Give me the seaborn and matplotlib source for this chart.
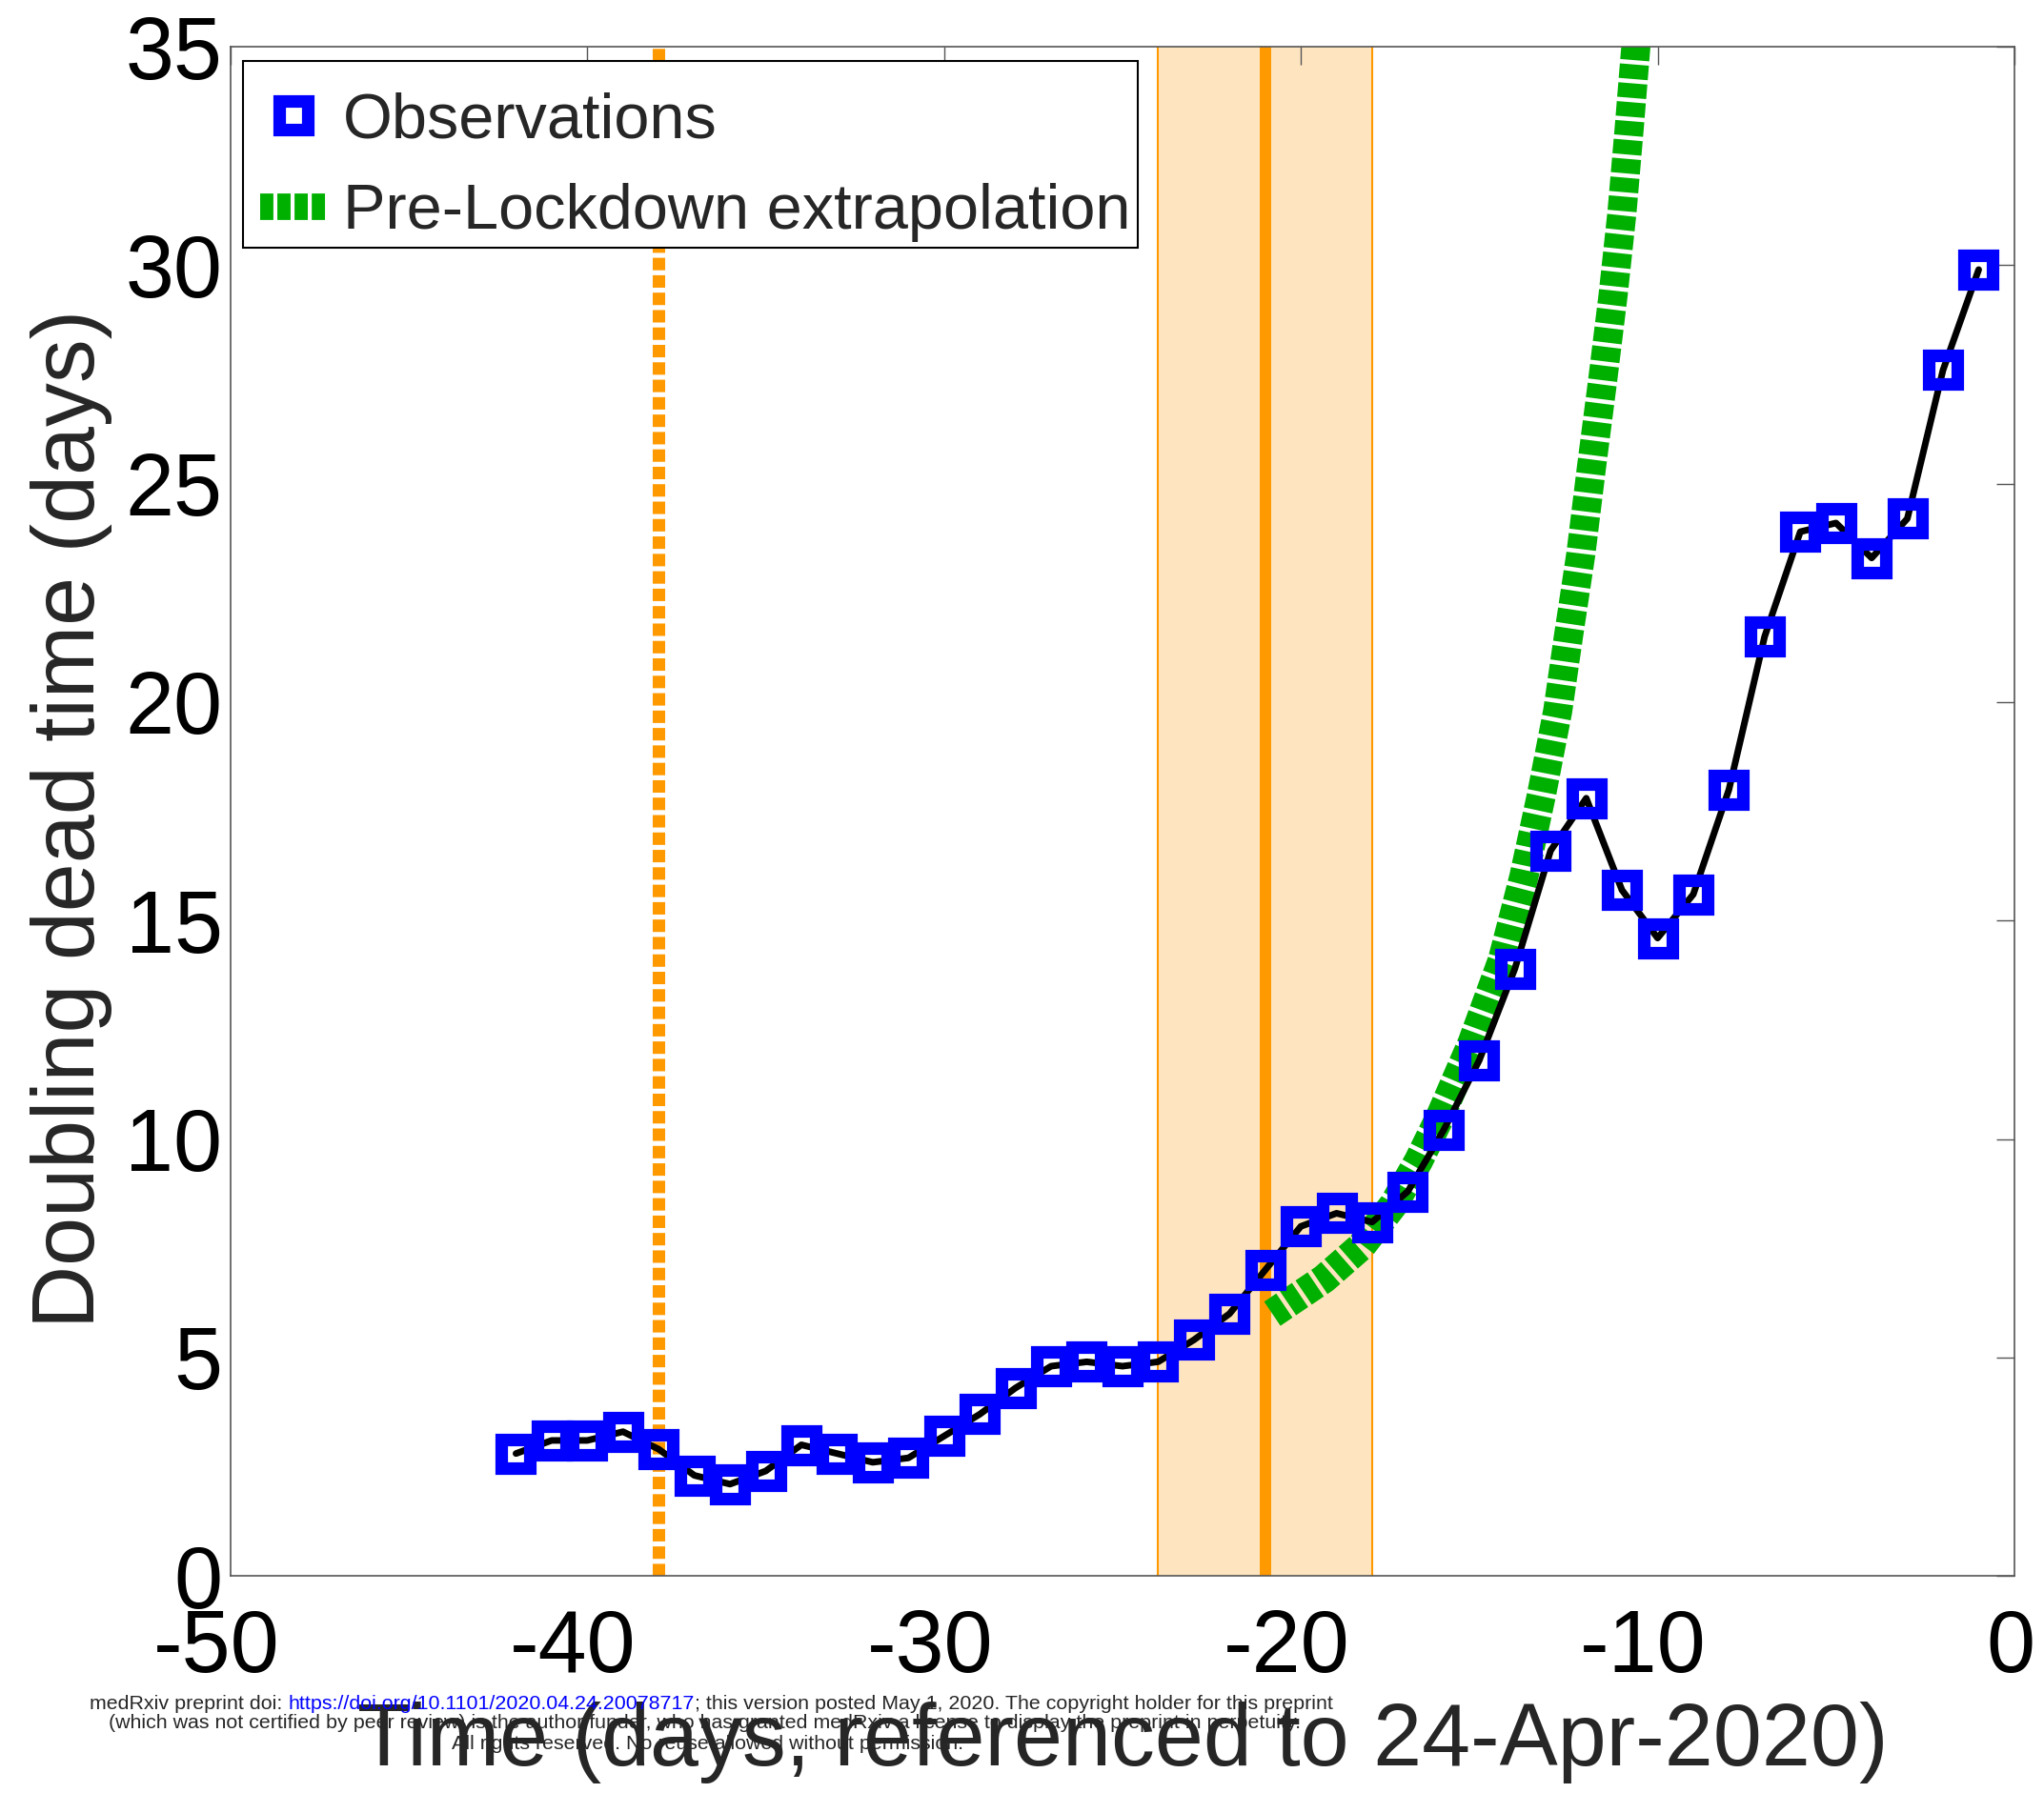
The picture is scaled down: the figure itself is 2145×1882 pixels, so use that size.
import matplotlib
matplotlib.use('Agg')
import matplotlib.pyplot as plt
import matplotlib.transforms as mtransforms
from matplotlib.lines import Line2D
from matplotlib.patches import Rectangle
import seaborn as sns
import pandas as pd

# Observed doubling time of deaths (days), referenced to 24-Apr-2020
days = list(range(-42, 0))
doubling_time = [2.8, 3.1, 3.1, 3.3, 2.9, 2.3, 2.1, 2.4, 3.0, 2.8,
                 2.6, 2.7, 3.2, 3.7, 4.3, 4.8, 4.9, 4.8, 4.9, 5.4,
                 6.0, 7.0, 8.0, 8.3, 8.1, 8.8, 10.2, 11.8, 13.9, 16.6,
                 17.8, 15.7, 14.6, 15.6, 18.0, 21.5, 23.9, 24.1, 23.3, 24.2,
                 27.6, 29.9]

# Pre-lockdown extrapolation
extrap_days = [-20.8, -19.35, -18.3, -17.4, -16.7, -16.1, -15.2, -14.35, -13.75,
               -13.25, -12.8, -12.5, -12.15, -11.85, -11.55, -11.25, -11.0, -10.8, -10.58]
extrap_vals = [6.0, 6.8, 7.55, 8.5, 9.5, 10.5, 12.2, 14.1, 16.0,
               17.9, 19.8, 21.5, 23.4, 25.4, 27.3, 29.3, 31.2, 33.1, 35.3]

first_event_day = -38
lockdown_day = -21
band_start, band_end = -24, -18

x_ticks = [-50, -40, -30, -20, -10, 0]
y_ticks = [0, 5, 10, 15, 20, 25, 30, 35]

obs = pd.DataFrame({'day': days, 'td': doubling_time})
ext = pd.DataFrame({'day': extrap_days, 'td': extrap_vals})

sns.set_style('white')
plt.rcParams['font.family'] = ['Liberation Sans', 'DejaVu Sans']
plt.rcParams['axes.unicode_minus'] = False

ORANGE = '#FF9900'
GREEN = '#00B000'
BLUE = '#0000FF'
green_ls = (0, (0.5, 0.15))
BIG = 66

fig = plt.figure(figsize=(21.45, 18.82), dpi=100)
ax = fig.add_axes([0.1128, 0.1211, 0.8727, 0.8528])

# lockdown window and event markers
ax.axvspan(band_start, band_end, facecolor='#FFE5BF', edgecolor='none', zorder=0)
for xb in (band_start, band_end):
    ax.axvline(xb, color=ORANGE, lw=1.5, zorder=1)
ax.axvline(lockdown_day, color=ORANGE, lw=8.6, zorder=1)
ax.axvline(first_event_day, color=ORANGE, lw=9.4, linestyle=(0, (1.0, 0.4)),
           dash_capstyle='butt', zorder=1)

# extrapolation
sns.lineplot(data=ext, x='day', y='td', color=GREEN, lw=22, linestyle=green_ls,
             dash_capstyle='butt', sort=False, ax=ax, zorder=2)

# observations
sns.lineplot(data=obs, x='day', y='td', color='black', lw=5, ax=ax, zorder=3)
sns.lineplot(data=obs, x='day', y='td', linestyle='none', marker='s', markersize=22,
             markerfacecolor='none', markeredgecolor=BLUE, markeredgewidth=9.5,
             ax=ax, zorder=4)

ax.set_xlim(-50, 0)
ax.set_ylim(0, 35)
ax.set_xticks(x_ticks, labels=[str(v) for v in x_ticks])
ax.set_yticks(y_ticks)
ax.tick_params(direction='in', length=13.7, width=1, colors='#555555',
               labelcolor='black', labelsize=BIG, top=True, right=True)
ax.tick_params(axis='x', pad=24.5)
ax.tick_params(axis='y', pad=6)
for sp in ax.spines.values():
    sp.set_color('#555555')
    sp.set_linewidth(1.2)

# x tick labels sit a little left of their ticks in the original
for lbl in ax.get_xticklabels():
    dx = -15 if lbl.get_text().startswith('-') else -4
    lbl.set_transform(lbl.get_transform()
                      + mtransforms.ScaledTranslation(dx / 100, 0, fig.dpi_scale_trans))

ax.set_xlabel('Time (days, referenced to 24-Apr-2020)', fontsize=BIG)
ax.set_ylabel('Doubling dead time (days)', fontsize=BIG)
ax.xaxis.set_label_coords(0.5, -0.082)
ax.yaxis.set_label_coords(-0.066, 0.495)

# legend: entries placed a bit low inside a hand-drawn frame, as in the original
handles = [
    Line2D([], [], ls='none', marker='s', ms=22, mfc='none', mec=BLUE, mew=9.5),
    Line2D([], [], color=GREEN, lw=20, ls=green_ls, dash_capstyle='butt'),
]
leg = ax.legend(handles, ['Observations', 'Pre-Lockdown extrapolation'],
                loc='upper left', bbox_to_anchor=(0, 0.99), fontsize=48, frameon=False,
                borderpad=0.27, labelspacing=0.5, handlelength=1.05,
                handletextpad=0.25, borderaxespad=0.2)
ax.add_patch(Rectangle((0.0069, 0.8685), 0.5016, 0.1222, transform=ax.transAxes,
                       facecolor='white', edgecolor='black', lw=1.5, zorder=4.5))
leg.set_zorder(5)

# preprint watermark
W, H = 2145, 1882
fs = 15.4
t1 = fig.text(94 / W, 1 - 1788 / H, 'medRxiv preprint doi: ', fontsize=fs,
              ha='left', va='center', zorder=10)
t2 = ax.annotate('https://doi.org/10.1101/2020.04.24.20078717', xy=(1, 0), xycoords=t1,
                 ha='left', va='bottom', fontsize=fs, color='blue', zorder=10)
ax.annotate('; this version posted May 1, 2020. The copyright holder for this preprint',
            xy=(1, 0), xycoords=t2, ha='left', va='bottom', fontsize=fs, zorder=10)
fig.text(740 / W, 1 - 1809 / H,
         '(which was not certified by peer review) is the author/funder, who has granted '
         'medRxiv a license to display the preprint in perpetuity.',
         fontsize=fs, ha='center', va='center', zorder=10)
fig.text(742 / W, 1 - 1830 / H, 'All rights reserved. No reuse allowed without permission.',
         fontsize=fs, ha='center', va='center', zorder=10)

fig.savefig('out.png', dpi=100)
